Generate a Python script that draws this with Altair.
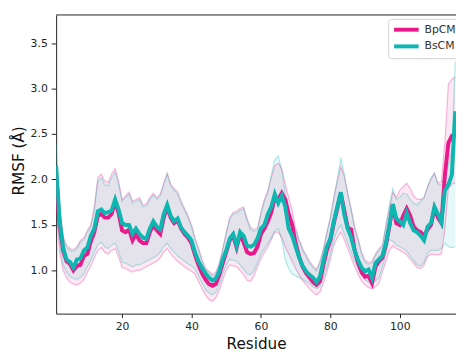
import altair as alt
import pandas as pd

residues = list(range(1, 117))

bp_mean = [2.05, 1.50, 1.22, 1.10, 1.07, 1.00, 1.05, 1.06, 1.16, 1.18,
           1.32, 1.42, 1.60, 1.62, 1.58, 1.58, 1.62, 1.76, 1.63, 1.44,
           1.42, 1.45, 1.33, 1.40, 1.33, 1.30, 1.30, 1.42, 1.50, 1.44,
           1.40, 1.58, 1.70, 1.58, 1.52, 1.55, 1.46, 1.40, 1.36, 1.30,
           1.17, 1.06, 0.97, 0.90, 0.85, 0.83, 0.85, 0.95, 1.08, 1.20,
           1.33, 1.38, 1.25, 1.40, 1.31, 1.20, 1.18, 1.19, 1.26, 1.40,
           1.46, 1.54, 1.64, 1.80, 1.78, 1.85, 1.78, 1.62, 1.50, 1.30,
           1.15, 1.04, 0.97, 0.92, 0.87, 0.84, 0.88, 1.06, 1.22, 1.33,
           1.52, 1.68, 1.85, 1.66, 1.47, 1.45, 1.22, 1.08, 0.98, 0.93,
           0.94, 0.86, 1.04, 1.10, 1.14, 1.28, 1.48, 1.72, 1.52, 1.50,
           1.60, 1.68, 1.60, 1.48, 1.44, 1.42, 1.38, 1.45, 1.50, 1.68,
           1.58, 1.52, 2.05, 2.40, 2.48, 2.50]

bs_mean = [2.15, 1.55, 1.25, 1.12, 1.09, 1.03, 1.12, 1.13, 1.22, 1.25,
           1.38, 1.46, 1.65, 1.67, 1.63, 1.64, 1.66, 1.78, 1.67, 1.52,
           1.50, 1.50, 1.40, 1.46, 1.40, 1.36, 1.35, 1.46, 1.54, 1.48,
           1.45, 1.62, 1.72, 1.60, 1.54, 1.57, 1.47, 1.42, 1.38, 1.33,
           1.20, 1.10, 1.03, 0.97, 0.92, 0.89, 0.91, 0.99, 1.12, 1.22,
           1.35, 1.40, 1.27, 1.42, 1.38, 1.27, 1.26, 1.28, 1.35, 1.46,
           1.50, 1.62, 1.70, 1.84, 1.74, 1.82, 1.70, 1.46, 1.38, 1.26,
           1.14, 1.05, 0.99, 0.95, 0.92, 0.87, 0.93, 1.11, 1.26, 1.35,
           1.54, 1.70, 1.86, 1.62, 1.46, 1.36, 1.22, 1.11, 1.03, 0.99,
           1.01, 0.92, 1.08, 1.12, 1.16, 1.30, 1.50, 1.73, 1.57, 1.54,
           1.50, 1.63, 1.52, 1.44, 1.42, 1.38, 1.33, 1.48, 1.52, 1.70,
           1.62, 1.53, 1.88, 1.94, 2.05, 2.75]

bp_hi = [2.15, 1.70, 1.38, 1.27, 1.24, 1.23, 1.26, 1.33, 1.36, 1.44,
         1.50, 1.70, 2.02, 2.06, 1.98, 1.97, 2.06, 2.12, 1.98, 1.78,
         1.82, 1.86, 1.76, 1.78, 1.80, 1.72, 1.73, 1.80, 1.85, 1.80,
         1.84, 1.96, 2.07, 1.95, 1.90, 1.86, 1.76, 1.68, 1.60, 1.50,
         1.36, 1.25, 1.12, 1.03, 0.99, 0.96, 0.98, 1.08, 1.24, 1.42,
         1.58, 1.64, 1.65, 1.68, 1.70, 1.57, 1.47, 1.45, 1.46, 1.64,
         1.78, 1.88, 2.02, 2.15, 2.18, 2.12, 1.95, 1.80, 1.66, 1.46,
         1.34, 1.24, 1.17, 1.10, 1.05, 1.01, 1.10, 1.24, 1.42, 1.58,
         1.80, 1.98, 2.14, 2.04, 1.85, 1.68, 1.48, 1.35, 1.20, 1.11,
         1.09, 1.10, 1.18, 1.24, 1.28, 1.48, 1.68, 1.86, 1.80, 1.88,
         1.92, 1.96, 1.90, 1.82, 1.78, 1.78, 1.80, 1.92, 2.00, 2.07,
         1.96, 1.98, 2.40, 3.05, 3.10, 3.13]

bs_hi = [2.40, 1.68, 1.36, 1.25, 1.22, 1.21, 1.24, 1.31, 1.34, 1.42,
         1.48, 1.66, 1.98, 2.02, 1.94, 1.93, 2.02, 2.08, 1.94, 1.76,
         1.80, 1.84, 1.74, 1.76, 1.78, 1.70, 1.71, 1.78, 1.83, 1.78,
         1.82, 1.94, 2.06, 1.93, 1.88, 1.84, 1.74, 1.66, 1.58, 1.48,
         1.34, 1.23, 1.10, 1.01, 0.97, 0.94, 0.96, 1.06, 1.22, 1.40,
         1.56, 1.62, 1.63, 1.66, 1.68, 1.55, 1.45, 1.43, 1.44, 1.62,
         1.76, 1.86, 2.05, 2.22, 2.26, 2.10, 1.86, 1.68, 1.56, 1.44,
         1.32, 1.22, 1.15, 1.08, 1.03, 0.99, 1.08, 1.22, 1.40, 1.58,
         1.80, 2.00, 2.24, 2.06, 1.84, 1.66, 1.46, 1.33, 1.18, 1.09,
         1.07, 1.08, 1.16, 1.22, 1.26, 1.50, 1.72, 1.90, 1.78, 1.80,
         1.85, 1.84, 1.78, 1.74, 1.72, 1.76, 1.80, 1.92, 2.02, 2.07,
         1.94, 1.94, 2.05, 2.15, 2.35, 3.30]

bp_lo = [1.70, 1.20, 1.00, 0.92, 0.87, 0.85, 0.84, 0.86, 0.90, 0.98,
         1.05, 1.14, 1.22, 1.25, 1.20, 1.18, 1.22, 1.24, 1.15, 1.03,
         1.02, 1.00, 0.98, 1.00, 1.00, 1.02, 1.04, 1.06, 1.08, 1.10,
         1.14, 1.20, 1.24, 1.18, 1.14, 1.10, 1.07, 1.04, 1.01, 0.99,
         0.96, 0.88, 0.80, 0.73, 0.68, 0.66, 0.70, 0.78, 0.90, 1.00,
         1.06, 1.05, 1.04, 1.00, 0.95, 0.89, 0.88, 0.94, 1.04, 1.13,
         1.20, 1.26, 1.34, 1.42, 1.42, 1.36, 1.26, 1.18, 1.10, 1.02,
         0.95, 0.89, 0.84, 0.80, 0.76, 0.73, 0.76, 0.86, 0.98, 1.12,
         1.28, 1.36, 1.42, 1.34, 1.24, 1.14, 1.04, 0.96, 0.88, 0.84,
         0.81, 0.80, 0.82, 0.86, 0.98, 1.10, 1.22, 1.27, 1.24, 1.22,
         1.20, 1.17, 1.12, 1.08, 1.03, 1.02, 1.06, 1.15, 1.18, 1.17,
         1.17, 1.18, 1.45, 1.90, 1.95, 1.96]

bs_lo = [1.90, 1.28, 1.06, 0.98, 0.93, 0.91, 0.90, 0.92, 0.96, 1.04,
         1.11, 1.20, 1.28, 1.31, 1.26, 1.24, 1.28, 1.30, 1.21, 1.09,
         1.08, 1.06, 1.04, 1.06, 1.06, 1.08, 1.10, 1.12, 1.14, 1.16,
         1.20, 1.26, 1.30, 1.24, 1.20, 1.16, 1.13, 1.10, 1.07, 1.05,
         1.02, 0.94, 0.86, 0.79, 0.75, 0.73, 0.76, 0.84, 0.96, 1.06,
         1.12, 1.11, 1.10, 1.06, 1.01, 0.96, 0.95, 1.00, 1.08, 1.18,
         1.24, 1.30, 1.36, 1.44, 1.46, 1.34, 1.12, 1.02, 0.96, 0.94,
         0.92, 0.90, 0.88, 0.85, 0.82, 0.80, 0.82, 0.92, 1.04, 1.18,
         1.34, 1.44, 1.50, 1.40, 1.30, 1.20, 1.10, 1.02, 0.94, 0.90,
         0.87, 0.86, 0.88, 0.92, 1.04, 1.18, 1.34, 1.32, 1.28, 1.26,
         1.24, 1.21, 1.16, 1.11, 1.06, 1.05, 1.09, 1.19, 1.22, 1.22,
         1.22, 1.24, 1.30, 1.26, 1.25, 1.26]

series_names = ["BpCM", "BsCM"]
series_colors = ["#e8198b", "#0db6b0"]
x_ticks = [20, 40, 60, 80, 100]
y_ticks = [1.0, 1.5, 2.0, 2.5, 3.0, 3.5]

rows = []
for name, m, lo, hi in [("BpCM", bp_mean, bp_lo, bp_hi), ("BsCM", bs_mean, bs_lo, bs_hi)]:
    for r, a, b, c in zip(residues, m, lo, hi):
        rows.append({"Residue": r, "series": name, "mean": a, "lo": b, "hi": c})
df = pd.DataFrame(rows)

W, H = 407, 304
FONT = "DejaVu Sans"

xs = alt.Scale(domain=[1, 116.2], nice=False, zero=False)
ys = alt.Scale(domain=[0.524, 3.81], nice=False, zero=False)
cs = alt.Scale(domain=series_names, range=series_colors)

x_axis = alt.Axis(values=x_ticks, title="Residue", tickSize=4, labelPadding=3,
                  labelFontSize=11, titleFontSize=15.5, titleFontWeight="normal",
                  titleY=35, titleBaseline="alphabetic", grid=False)
y_axis = alt.Axis(values=y_ticks, format=".1f", title="RMSF (Å)", tickSize=5,
                  labelPadding=4, labelFontSize=11, titleFontSize=15.5,
                  titleFontWeight="normal", titleX=-38, titleY=148,
                  titleBaseline="middle", grid=False)

base = alt.Chart(df)

band = base.mark_area(fillOpacity=0.1, clip=True).encode(
    x=alt.X("Residue:Q", scale=xs, axis=x_axis),
    y=alt.Y("lo:Q", scale=ys, axis=y_axis),
    y2="hi:Q",
    fill=alt.Fill("series:N", scale=cs, legend=None),
)

edge_lo = base.mark_line(strokeWidth=1.2, strokeOpacity=0.3, clip=True).encode(
    x=alt.X("Residue:Q", scale=xs),
    y=alt.Y("lo:Q", scale=ys),
    stroke=alt.Stroke("series:N", scale=cs, legend=None),
)
edge_hi = base.mark_line(strokeWidth=1.2, strokeOpacity=0.3, clip=True).encode(
    x=alt.X("Residue:Q", scale=xs),
    y=alt.Y("hi:Q", scale=ys),
    stroke=alt.Stroke("series:N", scale=cs, legend=None),
)

lines = base.mark_line(strokeWidth=4, clip=True).encode(
    x=alt.X("Residue:Q", scale=xs),
    y=alt.Y("mean:Q", scale=ys),
    color=alt.Color("series:N", scale=cs, legend=alt.Legend(
        title=None, orient="none", legendX=338, legendY=4,
        symbolType="M-1,0H4", symbolStrokeWidth=4, symbolSize=100,
        symbolFillColor="transparent",
        labelFontSize=11, labelFont=FONT, labelColor="#333",
        strokeColor="#d0d0d0", fillColor="white", cornerRadius=3,
        padding=4, rowPadding=1, labelOffset=19)),
)

top_border = alt.Chart(pd.DataFrame({"k": [0]})).mark_rule(color="#222", strokeWidth=1).encode(
    x=alt.value(0), x2=alt.value(W), y=alt.value(0)
)

chart = alt.layer(band, edge_lo, edge_hi, lines, top_border).resolve_scale(
    fill="independent", stroke="independent", color="independent"
).properties(
    width=W, height=H,
    autosize=alt.AutoSizeParams(type="none"),
    padding={"left": 49, "top": 4, "right": 0, "bottom": 37},
).configure_view(stroke=None).configure_axis(
    domainColor="#222", tickColor="#222", labelColor="#262626", titleColor="#111",
    labelFont=FONT, titleFont=FONT,
)

chart.save("out.html", embed_options={"renderer": "svg", "actions": False})
